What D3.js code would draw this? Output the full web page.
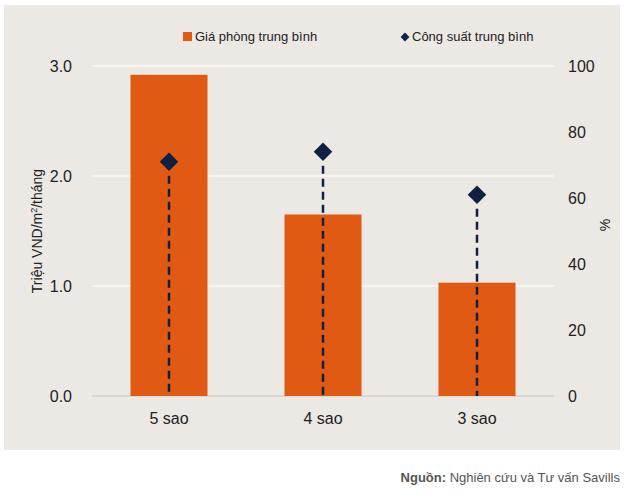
<!DOCTYPE html>
<html><head><meta charset="utf-8">
<script src="https://cdn.jsdelivr.net/npm/d3@7"></script>
<style>body{margin:0;background:#fff}text{font-family:"Liberation Sans",Arial,sans-serif}</style>
</head><body><svg id="c" width="630" height="497"></svg>
<script>
const categories=["5 sao","4 sao","3 sao"];
const price=[2.92,1.65,1.03];
const occupancy=[71,74,61];
const leftTicks=[0,1,2,3];
const rightTicks=[0,20,40,60,80,100];
const svg=d3.select("#c");
svg.append("rect").attr("x",4).attr("y",5).attr("width",616).attr("height",445).attr("fill","#ece8e3");
const x=d3.scaleBand().domain(categories).range([92,554]).paddingInner(0.5).paddingOuter(0.25);
const yL=d3.scaleLinear().domain([0,3]).range([396,66]);
const yR=d3.scaleLinear().domain([0,100]).range([396,66]);
const g=svg.append("g");
leftTicks.forEach(t=>{
  g.append("line").attr("x1",92).attr("x2",554).attr("y1",yL(t)).attr("y2",yL(t)).attr("stroke",t===0?"#c8c4bf":"#ffffff").attr("stroke-width",1.2);
  g.append("text").attr("x",72).attr("y",yL(t)+6).attr("text-anchor","end").attr("font-size",16).attr("fill","#222").text(t.toFixed(1));
});
rightTicks.forEach(t=>{
  g.append("text").attr("x",568).attr("y",yR(t)+6).attr("font-size",16).attr("fill","#222").text(t);
});
g.selectAll(".bar").data(categories).enter().append("rect")
 .attr("x",d=>x(d)).attr("width",x.bandwidth()).attr("y",(d,i)=>yL(price[i])).attr("height",(d,i)=>yL(0)-yL(price[i])).attr("fill","#e05a14");
categories.forEach((c,i)=>{
  const cx=x(c)+x.bandwidth()/2;
  g.append("line").attr("x1",cx).attr("x2",cx).attr("y1",yR(occupancy[i])+14).attr("y2",yR(0)).attr("stroke","#0f2143").attr("stroke-width",2.5).attr("stroke-dasharray","8,5");
  g.append("path").attr("d",d3.symbol(d3.symbolDiamond2,220)()).attr("transform",`translate(${cx},${yR(occupancy[i])})`).attr("fill","#0f2143");
  g.append("text").attr("x",cx).attr("y",424).attr("text-anchor","middle").attr("font-size",16).attr("fill","#222").text(c);
});
g.append("text").attr("transform","translate(42,231) rotate(-90)").attr("text-anchor","middle").attr("font-size",14).attr("fill","#222").html('Triệu VND/m<tspan dy="-5" font-size="9">2</tspan><tspan dy="5">/tháng</tspan>');
g.append("text").attr("transform","translate(610,225) rotate(-90)").attr("text-anchor","middle").attr("font-size",14).attr("fill","#222").text("%");
// legend
g.append("rect").attr("x",183).attr("y",32).attr("width",9).attr("height",9).attr("fill","#e05a14");
g.append("text").attr("x",195).attr("y",41).attr("font-size",13).attr("fill","#222").text("Giá phòng trung bình");
g.append("path").attr("d",d3.symbol(d3.symbolDiamond2,50)()).attr("transform","translate(405,37)").attr("fill","#0f2143");
g.append("text").attr("x",412).attr("y",41).attr("font-size",13).attr("fill","#222").text("Công suất trung bình");
svg.append("text").attr("x",620).attr("y",482).attr("text-anchor","end").attr("font-size",13).attr("fill","#555")
 .html('<tspan font-weight="bold">Nguồn:</tspan> Nghiên cứu và Tư vấn Savills');
</script></body></html>
